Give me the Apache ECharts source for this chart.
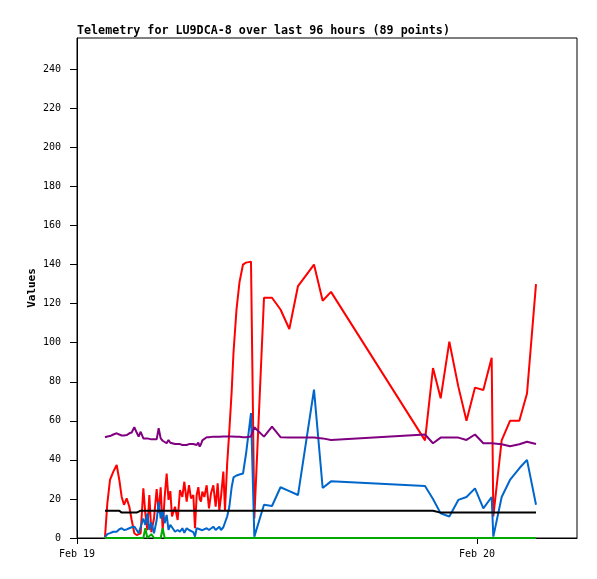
<!DOCTYPE html>
<html>
<head>
<meta charset="utf-8">
<script src="https://cdn.jsdelivr.net/npm/echarts@6/dist/echarts.min.js"></script>
<style>html,body{margin:0;padding:0;background:#fff}#c{width:597px;height:579px}</style>
</head>
<body>
<div id="c"></div>
<script>
// hours since Feb 19 00:00
const hours = [1.68,1.82,1.98,2.18,2.38,2.54,2.68,2.82,2.98,3.14,3.28,3.44,3.58,3.70,3.82,3.98,4.10,4.22,4.34,4.46,4.62,4.78,4.90,5.02,5.14,5.26,5.38,5.49,5.60,5.70,5.88,6.04,6.18,6.32,6.44,6.58,6.72,6.84,6.98,7.08,7.18,7.28,7.36,7.44,7.52,7.64,7.78,7.92,8.04,8.18,8.32,8.44,8.54,8.64,8.78,8.88,9.01,9.14,9.28,9.39,9.57,9.75,9.96,10.14,10.44,10.64,11.22,11.70,12.21,12.74,13.26,14.22,14.74,15.24,20.88,21.36,21.82,22.34,22.88,23.37,23.88,24.38,24.88,24.98,25.48,25.98,26.54,27.00,27.54];
const redVals = [0.5,17.7,29.7,34,37.4,29.7,21,17,20.3,16,9.2,2.4,1.5,1.5,2.4,25.4,12.6,4,22,3,10,25,12.8,26,4,21,33,19.5,24,11,16,9.2,24.6,21,28.8,18.6,27,20.3,22,5,22,26,20,18.6,23.7,21,27,15.2,22.9,27,16,28,14.3,21,34,14.3,38,55,75,95,117,131,140,141,141.5,10,123,123,117,107,129,140,121.5,126,50,87,71.5,100.5,77.5,60,77,75.8,92.3,11,50,60,60,74,130];
const blueVals = [0.5,2,2.5,3.2,3.2,4.5,5,4.1,4.4,5,5.5,5.8,4.1,2.4,3.2,10,6.7,12.6,4.1,8,2.4,9.2,18.6,10,14.3,7.5,11.8,4.1,6.7,5.5,3.2,4.1,3.2,5,2.7,5,4.1,5,3,0.7,5,4.1,4.5,5,4,3.2,5,4.1,4.1,5.8,4.1,5,5.8,4.1,5.5,5.5,11,16,26,31,32,32.5,33,43,64,0.7,17,16.4,26,24,22,76,25.6,29,26.6,20,12.6,11,19.5,21,25.4,15.2,21,0.7,21,29.7,35.7,40,17];
const purpleVals = [51.6,52,52.2,53,53.6,53,52.5,52.5,52.7,53.6,54,56.7,54,51.9,54.4,51,51,51,50.5,50.5,50.5,50.5,56.2,51,49.8,49.8,48.5,50.2,48.8,48.1,48.1,48.1,48.1,47.6,47.6,47.6,48.1,48.1,48.1,47.6,47.6,48.8,46.8,48,50,51,51.6,51.6,51.6,51.9,51.9,51.9,51.9,51.9,52,52,52,52,52,52,51.9,51.8,51.6,51.6,52,56.7,51.9,57,51.6,51.4,51.4,51.4,51,50.2,53,48.5,51.4,51.4,51.4,50.2,53,48.5,48.5,49.3,48,47,48,49.3,48.1];
const blackVals = [14,14,14,14,14,14,13,13,13,13,13,13,13,13,14,14,14,14,14,14,14,14,14,14,14,14,14,14,14,14,14,14,14,14,14,14,14,14,14,14,14,14,14,14,14,14,14,14,14,14,14,14,14,14,14,14,14,14,14,14,14,14,14,14,14,14,14,14,14,14,14,14,14,14,14,14,13,13,13,13,13,13,13,13,13,13,13,13,13];
const greenVals = [0,0,0,0,0,0,0,0,0,0,0,0,0,0,0,0,5,0,0,2,0,0,0,0,5,0,0,0,0,0,0,0,0,0,0,0,0,0,0,0,0,0,0,0,0,0,0,0,0,0,0,0,0,0,0,0,0,0,0,0,0,0,0,0,0,0,0,0,0,0,0,0,0,0,0,0,0,0,0,0,0,0,0,0,0,0,0,0,0];
const xTickHours = [0, 24];
const xTickLabels = ['Feb 19', 'Feb 20'];
const yTicks = [0,20,40,60,80,100,120,140,160,180,200,220,240];
const titleText = 'Telemetry for LU9DCA-8 over last 96 hours (89 points)';
const yName = 'Values';

function pairs(vals){ return hours.map((h,i)=>[h, vals[i]]); }
const mono = 'DejaVu Sans Mono';
const chart = echarts.init(document.getElementById('c'), null, {renderer:'canvas'});
function line(vals, color){
  return {type:'line', data:pairs(vals), showSymbol:false, symbol:'none', animation:false,
    lineStyle:{color:color, width:2}, itemStyle:{color:color}};
}
chart.setOption({
  animation:false,
  backgroundColor:'#fff',
  title:{text:titleText, left:77, top:25, padding:0,
    textStyle:{fontFamily:mono, fontSize:11.7, fontWeight:'bold', color:'#000'}},
  grid:{left:77, top:38, right:20, bottom:41, show:true, borderColor:'#000', borderWidth:1, backgroundColor:'transparent'},
  xAxis:{type:'value', min:0, max:30,
    axisLine:{show:true, lineStyle:{color:'#000', width:1}},
    axisTick:{show:true, length:6, lineStyle:{color:'#000'}, customValues:xTickHours},
    axisLabel:{customValues:xTickHours, color:'#000', fontFamily:mono, fontSize:10, margin:11,
      formatter:(v)=>{const i=xTickHours.indexOf(v); return i>=0?xTickLabels[i]:'';}},
    splitLine:{show:false}},
  yAxis:{type:'value', min:0, max:256, interval:20,
    name:yName, nameLocation:'middle', nameGap:39, nameMoveOverlap:false,
    nameTextStyle:{fontFamily:mono, fontSize:11, fontWeight:'bold', color:'#000'},
    axisLine:{show:true, lineStyle:{color:'#000', width:1}},
    axisTick:{show:true, length:7, lineStyle:{color:'#000'}, customValues:yTicks},
    axisLabel:{customValues:yTicks, color:'#000', fontFamily:mono, fontSize:10, margin:16},
    splitLine:{show:false}},
  series:[
    line(redVals,'#ff0000'),
    line(blueVals,'#0066cc'),
    line(purpleVals,'#800080'),
    line(blackVals,'#000000'),
    line(greenVals,'#00aa00')
  ]
});
</script>
</body>
</html>
